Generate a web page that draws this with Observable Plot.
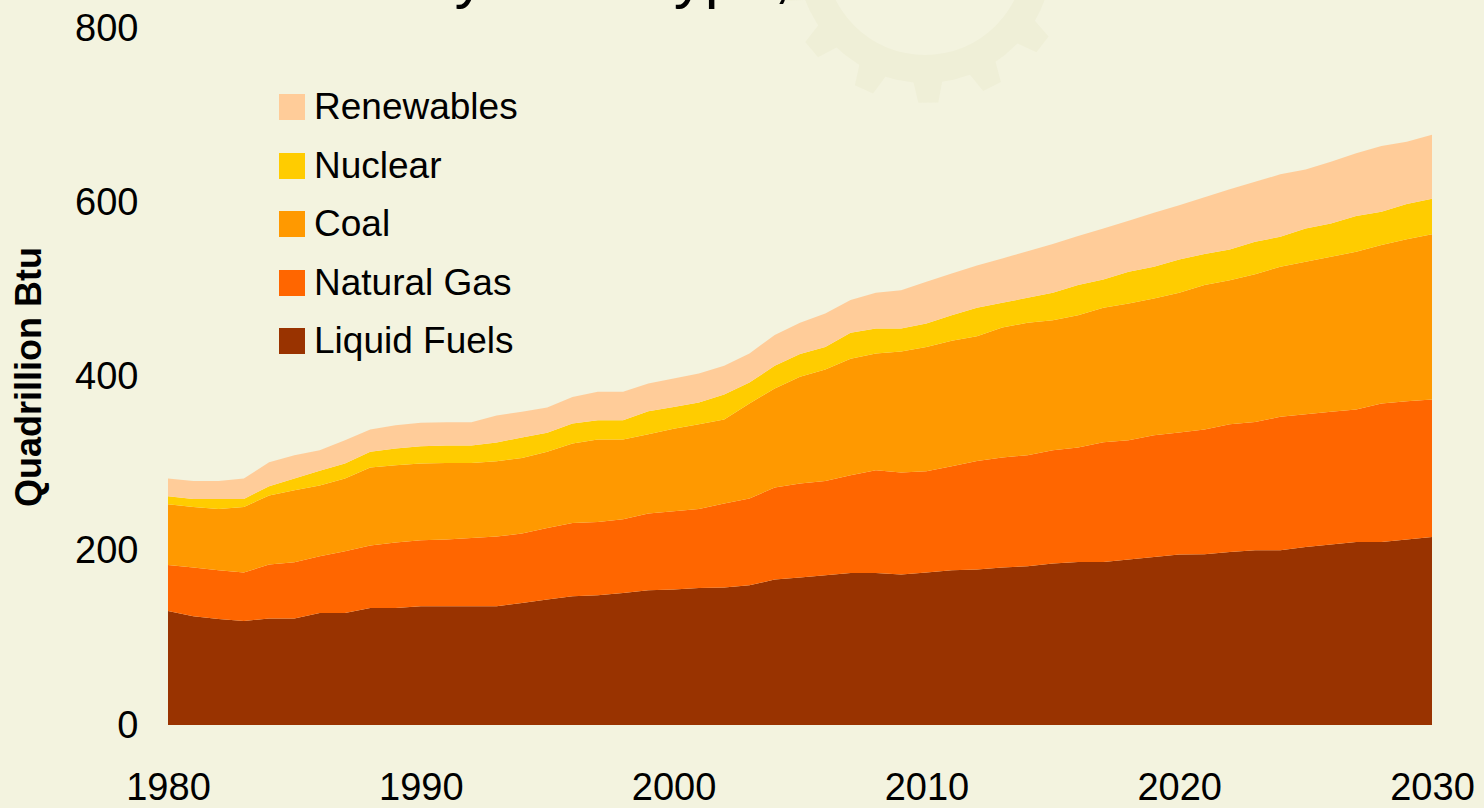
<!DOCTYPE html>
<html>
<head>
<meta charset="utf-8">
<script src="https://cdn.jsdelivr.net/npm/d3@7"></script>
<script src="https://cdn.jsdelivr.net/npm/@observablehq/plot@0.6"></script>
<style>
  html, body { margin: 0; padding: 0; background: #F3F3DF; }
  #wrap { position: relative; width: 1484px; height: 808px; overflow: hidden; background: #F3F3DF;
          font-family: "Liberation Sans", Arial, Helvetica, sans-serif; }
  #title { position: absolute; left: 420px; top: -56px; font-size: 62px; line-height: 62px; color: #000; white-space: nowrap; }
  #gear { position: absolute; left: 0; top: 0; }
  #chart { position: absolute; left: 0; top: 0; }
  #legend { position: absolute; left: 279px; top: 94px; }
  .item { position: absolute; left: 0; height: 26px; white-space: nowrap; }
  .sw { position: absolute; left: 0; top: 0; width: 26px; height: 26px; }
  .lbl { position: absolute; left: 35px; top: -9px; font-size: 37px; line-height: 44px; color: #000; }
  g[aria-label="y-axis label"] text { font-weight: bold; font-size: 36px; }
</style>
</head>
<body>
<div id="wrap">
  <svg id="gear" width="1484" height="808"></svg>
  <div id="title">by Fuel Type, 1980-2030</div>
  <div id="chart"></div>
  <div id="legend"></div>
</div>
<script>
const years = d3.range(1980, 2031);
const fuels = ["Liquid Fuels", "Natural Gas", "Coal", "Nuclear", "Renewables"];
const colors = ["#993300", "#FF6600", "#FF9900", "#FFCC00", "#FFCC99"];
const legendOrder = ["Renewables", "Nuclear", "Coal", "Natural Gas", "Liquid Fuels"];
const xTicks = [1980, 1990, 2000, 2010, 2020, 2030];
const yTicks = [0, 200, 400, 600, 800];

const liquids = [130.9,124.8,121.7,119.4,122.2,122.2,128.6,128.6,134.3,134.3,
  136.3,136.3,136.3,136.3,140.1,144.0,147.8,148.9,151.6,154.7,
  155.5,157.3,157.8,160.4,167.0,169.3,171.9,174.5,174.5,172.7,
  175.0,177.6,178.4,180.7,182.2,185.3,187.2,187.2,189.9,192.9,
  195.7,196.0,198.6,200.6,200.6,204.4,207.1,210.1,210.1,212.9,215.9];
const naturalGas = [52.8,55.9,55.9,55.6,62.0,64.6,65.1,70.8,71.7,75.1,
  75.8,76.6,78.4,80.0,79.7,82.2,84.1,84.2,84.6,88.0,
  89.9,90.7,96.4,99.6,105.6,107.9,108.3,112.2,118.0,117.1,
  116.3,119.5,124.7,126.3,127.5,130.1,131.3,137.4,137.0,139.7,
  140.0,143.2,146.7,147.3,153.1,152.4,152.3,152.1,158.9,158.8,157.7];
const coal = [69.7,69.6,70.4,75.3,79.2,82.7,81.2,83.5,89.6,88.8,
  88.1,87.9,86.1,86.5,86.8,87.3,91.2,94.6,91.5,91.1,
  94.5,97.3,96.5,109.0,113.7,122.4,127.9,133.6,134.0,138.9,
  142.7,143.8,143.2,149.3,151.9,149.3,151.9,154.2,157.0,157.0,
  160.3,165.7,165.3,169.6,172.2,174.8,178.0,180.9,181.8,185.7,189.8];
const nuclear = [9.2,9.2,11.5,9.2,10.7,13.4,16.8,17.3,17.9,19.2,
  19.8,20.0,20.0,21.5,23.4,21.8,23.0,22.2,22.2,26.4,
  25.2,24.9,28.7,24.2,25.9,26.1,25.9,29.8,28.7,26.5,
  26.9,29.5,32.5,28.3,28.7,31.3,34.5,32.6,36.3,36.3,
  38.4,35.6,35.3,37.1,34.4,38.4,38.3,41.0,38.2,40.5,40.5];
const renewables = [20.3,20.7,20.7,23.4,27.5,26.8,23.7,26.7,25.7,26.7,
  26.8,26.8,26.8,31.0,29.4,29.1,30.5,32.5,32.5,31.8,
  32.6,33.3,32.8,33.3,35.3,35.9,38.4,37.6,40.8,43.9,
  47.8,47.9,48.7,50.9,53.6,56.0,56.3,58.6,58.5,62.0,
  62.3,65.1,68.9,68.9,71.7,67.7,70.8,72.0,75.5,71.5,73.6];

const series = {"Liquid Fuels": liquids, "Natural Gas": naturalGas, "Coal": coal, "Nuclear": nuclear, "Renewables": renewables};
const rows = [];
for (const f of fuels) years.forEach((yr, i) => rows.push({year: yr, fuel: f, value: series[f][i]}));

const chart = Plot.plot({
  width: 1484,
  height: 808,
  marginLeft: 168,
  marginRight: 52,
  marginTop: 28,
  marginBottom: 83,
  style: {background: "transparent", fontFamily: "'Liberation Sans', Arial, sans-serif", fontSize: "38px", color: "#000", overflow: "visible"},
  x: {domain: [1980, 2030]},
  y: {domain: [0, 800]},
  color: {domain: fuels, range: colors},
  marks: [
    Plot.areaY(rows, {x: "year", y: "value", fill: "fuel", order: fuels}),
    Plot.axisX({ticks: xTicks, tickFormat: d => String(d), tickSize: 0, tickPadding: 48, label: null}),
    Plot.axisY({ticks: yTicks, tickSize: 0, tickPadding: 30, label: "Quadrillion Btu", labelAnchor: "center", labelArrow: "none", labelOffset: 153})
  ]
});
document.getElementById("chart").appendChild(chart);

const legend = document.getElementById("legend");
legendOrder.forEach((f, i) => {
  const item = document.createElement("div");
  item.className = "item";
  item.style.top = (i * 58.5) + "px";
  const sw = document.createElement("div");
  sw.className = "sw";
  sw.style.background = colors[fuels.indexOf(f)];
  const lbl = document.createElement("div");
  lbl.className = "lbl";
  lbl.textContent = f;
  item.appendChild(sw); item.appendChild(lbl);
  legend.appendChild(item);
});

// faint decorative gear watermark
(function () {
  const svg = d3.select("#gear");
  const cx = 925, cy = -45, rIn = 100, rOut = 128, rTooth = 148, n = 14;
  const pts = [];
  for (let k = 0; k < n; k++) {
    const a0 = (k / n) * 2 * Math.PI, w = (2 * Math.PI / n);
    const segs = [[0, rOut], [0.2, rOut], [0.3, rTooth], [0.6, rTooth], [0.7, rOut], [1, rOut]];
    for (const [t, r] of segs) { const a = a0 + t * w; pts.push([cx + r * Math.cos(a), cy + r * Math.sin(a)]); }
  }
  let d = "M" + pts.map(p => p.join(",")).join("L") + "Z";
  d += `M${cx + rIn},${cy}A${rIn},${rIn} 0 1,0 ${cx - rIn},${cy}A${rIn},${rIn} 0 1,0 ${cx + rIn},${cy}Z`;
  svg.append("path").attr("d", d).attr("fill", "#EFEFD7").attr("fill-rule", "evenodd");
})();
</script>
</body>
</html>
